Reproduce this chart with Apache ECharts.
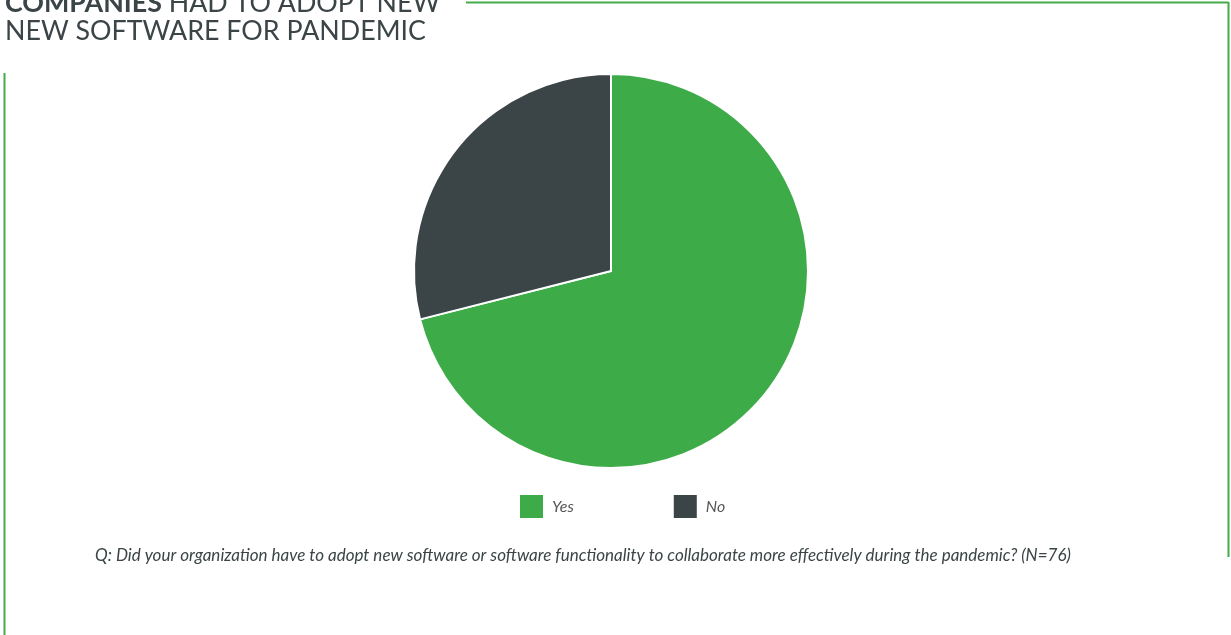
<!DOCTYPE html>
<html><head><meta charset="utf-8">
<script src="https://cdn.jsdelivr.net/npm/echarts@6/dist/echarts.min.js"></script>
<style>html,body{margin:0;padding:0;background:#fff}#c{width:1231px;height:635px}</style>
</head><body><div id="c"></div>
<script>
const categories = ['Yes', 'No'];
const values = [54, 22];
const colors = ['#3dab48', '#3b4446'];

const chart = echarts.init(document.getElementById('c'));
chart.setOption({
  animation: false,
  graphic: [
    { type: 'line', shape: { x1: 466, y1: 2.5, x2: 1228.5, y2: 2.5 }, style: { stroke: '#44ac4d', lineWidth: 2 } },
    { type: 'line', shape: { x1: 1228.5, y1: 2, x2: 1228.5, y2: 557 }, style: { stroke: '#44ac4d', lineWidth: 2 } },
    { type: 'line', shape: { x1: 4.5, y1: 73, x2: 4.5, y2: 635 }, style: { stroke: '#44ac4d', lineWidth: 2 } },
    { type: 'text', left: 5, top: -11, style: {
        text: '{b|COMPANIES} HAD TO ADOPT NEW\nNEW SOFTWARE FOR PANDEMIC',
        font: '26.8px Lato', fill: '#3b4446', lineHeight: 28,
        rich: { b: { fontWeight: 'bold', fontSize: 26.8, fontFamily: 'Lato', fill: '#3b4446' } }
      } },
    { type: 'text', left: 95, top: 547, style: {
        text: 'Q: Did your organization have to adopt new software or software functionality to collaborate more effectively during the pandemic? (N=76)',
        font: 'italic 17px Lato', fill: '#3b4446'
      } }
  ],
  legend: {
    data: categories,
    left: 520, top: 495, padding: 0,
    itemWidth: 23, itemHeight: 23, itemGap: 100,
    icon: 'rect',
    itemStyle: { borderWidth: 0 },
    textStyle: { fontFamily: 'Lato', fontStyle: 'italic', fontSize: 16, color: '#555', padding: [0, 0, 0, 4] }
  },
  series: [{
    type: 'pie',
    center: [611, 271],
    radius: [0, 197],
    startAngle: 90,
    clockwise: true,
    label: { show: false },
    labelLine: { show: false },
    itemStyle: { borderColor: '#fff', borderWidth: 2 },
    emphasis: { disabled: true },
    data: categories.map((c, i) => ({ name: c, value: values[i], itemStyle: { color: colors[i] } }))
  }]
});
</script></body></html>
